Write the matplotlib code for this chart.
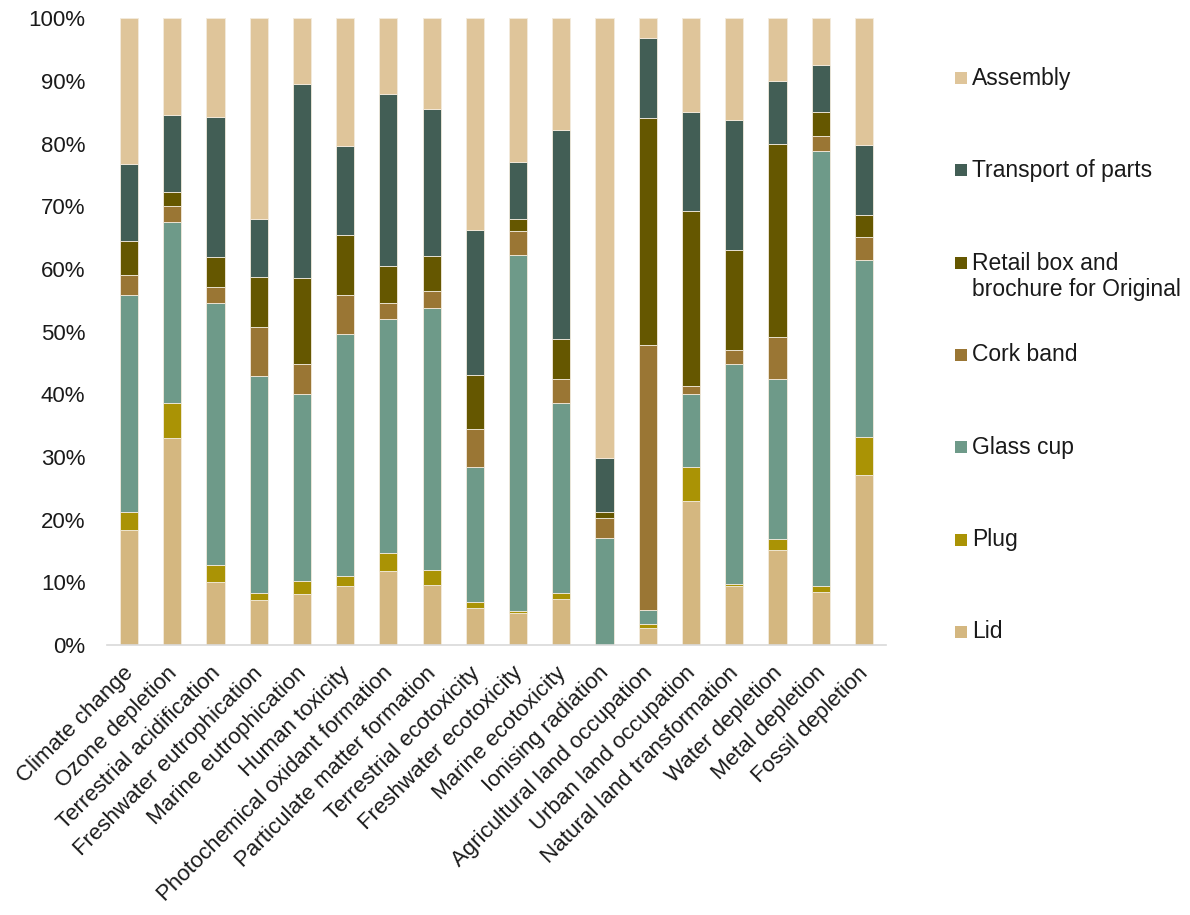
import matplotlib
matplotlib.use("Agg")
import matplotlib.pyplot as plt
import matplotlib.transforms as mtransforms
import numpy as np
from matplotlib.patches import Rectangle

plt.rcParams['font.family'] = ['Liberation Sans', 'DejaVu Sans']

categories = [
    "Climate change", "Ozone depletion", "Terrestrial acidification",
    "Freshwater eutrophication", "Marine eutrophication", "Human toxicity",
    "Photochemical oxidant formation", "Particulate matter formation",
    "Terrestrial ecotoxicity", "Freshwater ecotoxicity", "Marine ecotoxicity",
    "Ionising radiation", "Agricultural land occupation", "Urban land occupation",
    "Natural land transformation", "Water depletion", "Metal depletion",
    "Fossil depletion",
]

# Shares per life-cycle component (percent), bottom to top
lid        = [18.3, 33.0, 10.0,  7.2,  8.1,  9.5, 11.8,  9.6,  5.9,  5.1,  7.4,  0.0,  2.8, 23.0,  9.4, 15.1,  8.5, 27.1]
plug       = [ 2.9,  5.6,  2.7,  1.1,  2.2,  1.6,  2.9,  2.3,  0.9,  0.4,  0.9,  0.0,  0.5,  5.4,  0.4,  1.8,  1.0,  6.1]
glass_cup  = [34.7, 28.9, 41.9, 34.6, 29.8, 38.5, 37.4, 41.9, 21.6, 56.8, 30.3, 17.1,  2.3, 11.7, 35.2, 25.5, 69.4, 28.3]
cork_band  = [ 3.2,  2.6,  2.5,  7.8,  4.8,  6.2,  2.4,  2.7,  6.0,  3.7,  3.8,  3.1, 42.3,  1.3,  2.1,  6.7,  2.3,  3.6]
retail_box = [ 5.4,  2.2,  4.8,  8.0, 13.7,  9.6,  6.0,  5.6,  8.7,  2.0,  6.4,  1.0, 36.2, 27.8, 16.1, 30.8,  3.8,  3.5]
transport  = [12.3, 12.3, 22.4,  9.2, 30.9, 14.2, 27.5, 23.5, 23.1,  9.1, 33.4,  8.7, 12.8, 15.9, 20.7, 10.1,  7.5, 11.2]
assembly   = [23.2, 15.4, 15.7, 32.1, 10.5, 20.4, 12.0, 14.4, 33.8, 22.9, 17.8, 70.1,  3.1, 14.9, 16.3, 10.0,  7.5, 20.2]

series_names = ["Lid", "Plug", "Glass cup", "Cork band",
                "Retail box and\nbrochure for Original", "Transport of parts", "Assembly"]
series_vals = [lid, plug, glass_cup, cork_band, retail_box, transport, assembly]
colors = ["#D4B780", "#AA9305", "#6E9A89", "#9A7634", "#655700", "#425E55", "#DFC59A"]

W, H = 1190, 915
fig = plt.figure(figsize=(W / 100, H / 100), dpi=100)
ax = fig.add_axes([0.0899, 0.295, 0.6546, 0.685])

x = np.arange(len(categories))
data = np.array(series_vals, dtype=float)
shares = data / data.sum(axis=0) * 100.0

bottom = np.zeros(len(categories))
for name, vals, col in zip(series_names, shares, colors):
    ax.bar(x, vals, bottom=bottom, width=0.42, color=col, label=name,
           edgecolor="#F3EBDD", linewidth=0.6)
    bottom += vals

ax.set_xlim(-0.51, len(categories) - 0.49)
ax.set_ylim(0, 100)
ax.set_yticks(np.arange(0, 101, 10))
ax.set_yticklabels([f"{v}%" for v in range(0, 101, 10)], fontsize=16, color="#1a1a1a")
ax.set_xticks(x)
ax.set_xticklabels(categories, rotation=45, ha="right", rotation_mode="anchor",
                   fontsize=16, color="#1a1a1a")
ax.tick_params(axis="y", length=0, pad=15.5)
ax.tick_params(axis="x", length=0, pad=9)

# nudge category labels slightly down-left
shift = mtransforms.ScaledTranslation(-0.06, -0.05, fig.dpi_scale_trans)
for lbl in ax.get_xticklabels():
    lbl.set_transform(lbl.get_transform() + shift)

for side in ("top", "right", "left"):
    ax.spines[side].set_visible(False)
ax.spines["bottom"].set_color("#D9D9D9")
ax.spines["bottom"].set_linewidth(1.2)

# Legend with evenly spaced entries (top entry = last stacked series)
slot_top, slot_step = 78.0, 92.3       # pixel rows of entry centres
key_x, key_size, text_x = 955.0, 12.0, 972.0
line_px = 28.0
for i, (name, col) in enumerate(zip(series_names[::-1], colors[::-1])):
    yc = slot_top + i * slot_step
    fig.patches.append(Rectangle(((key_x) / W, 1 - (yc + key_size / 2) / H),
                                 key_size / W, key_size / H,
                                 transform=fig.transFigure, facecolor=col,
                                 edgecolor="none"))
    n_lines = name.count("\n") + 1
    ty = yc + (n_lines - 1) * line_px / 2
    fig.text(text_x / W, 1 - ty / H, name, fontsize=16.5, color="#1a1a1a",
             ha="left", va="center", linespacing=1.2)

fig.savefig("out.png", dpi=100, facecolor="white")
